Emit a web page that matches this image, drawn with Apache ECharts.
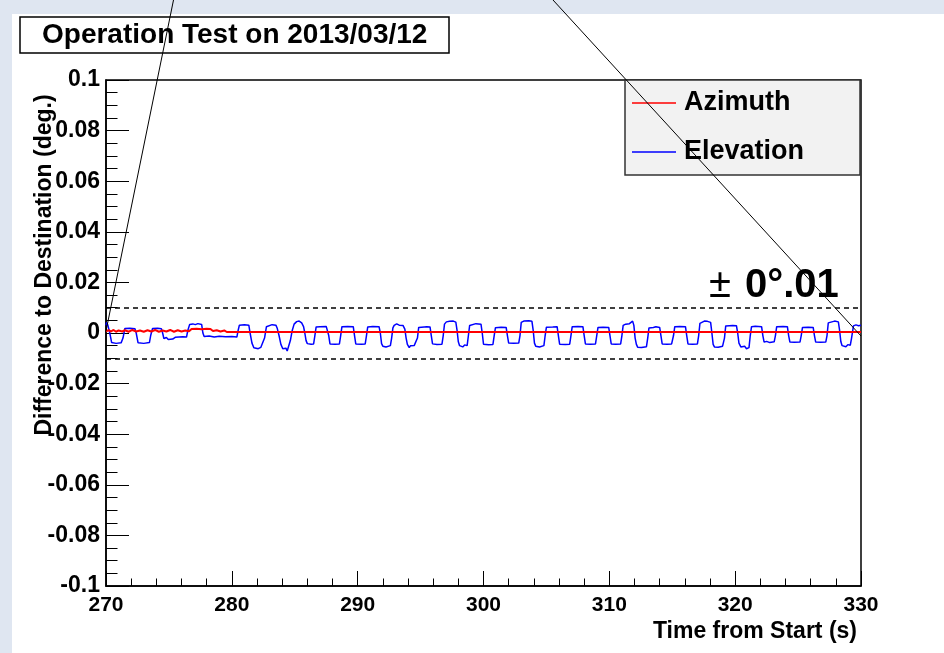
<!DOCTYPE html>
<html>
<head>
<meta charset="utf-8">
<script src="https://cdn.jsdelivr.net/npm/echarts@6/dist/echarts.min.js"></script>
<style>
html,body{margin:0;padding:0;background:#dfe6f1;}
#c{width:944px;height:653px;}
</style>
</head>
<body>
<div id="c"></div>
<script>
var titleText = 'Operation Test on 2013/03/12';
var seriesNames = ['Azimuth', 'Elevation'];
var xTicks = [270, 280, 290, 300, 310, 320, 330];
var yTicks = [-0.1, -0.08, -0.06, -0.04, -0.02, 0, 0.02, 0.04, 0.06, 0.08, 0.1];
var toleranceLevels = [0.01, -0.01];

var azimuth = [
[270.0,0.0007],[270.2,0.0011],[270.4,0.0006],[270.6,0.0012],[270.8,0.0005],[271.0,0.001],[271.3,0.0006],[271.5,0.0011],
[271.8,0.0005],[272.1,0.0012],[272.4,0.0006],[272.7,0.001],[273.0,0.0005],[273.3,0.0011],[273.6,0.0006],[273.9,0.0012],
[274.2,0.0005],[274.5,0.001],[274.8,0.0006],[275.1,0.0012],[275.4,0.0005],[275.7,0.0011],[276.0,0.0006],[276.3,0.001],
[276.6,0.0007],[276.8,0.0016],[277.2,0.0017],[277.6,0.0015],[278.0,0.0017],[278.3,0.0016],[278.5,0.0008],[278.8,0.0011],
[279.1,0.0006],[279.4,0.001],[279.6,0.0004],[318.95,0.0004],[319.0,0.0009],[319.05,0.0004],[328.25,0.0004],[328.3,0.0009],
[328.35,0.0004],[330.0,0.0004]
];

var elevation = [
[270.0,0.003],[270.05,0.0042],[270.15,0.003],[270.3,0.0],[270.45,-0.0038],[270.8,-0.0041],[271.2,-0.0039],[271.35,-0.002],
[271.5,0.0018],[271.9,0.0019],[272.3,0.0017],[272.4,0.0],[272.55,-0.0039],[273.0,-0.0041],[273.45,-0.0038],[273.55,-0.001],
[273.7,0.0018],[274.1,0.0019],[274.4,0.0017],[274.5,0.0],[274.6,-0.0022],[274.7,-0.0028],[274.8,-0.0018],[274.95,-0.0026],
[275.1,-0.002],[275.3,-0.0024],[275.5,-0.0017],[275.8,-0.0016],[276.1,-0.0015],[276.4,-0.0016],[276.5,0.001],[276.65,0.0034],
[276.9,0.0036],[277.1,0.0033],[277.3,0.0037],[277.6,0.0034],[277.7,0.0],[277.8,-0.0014],[278.2,-0.0012],[278.6,-0.0016],
[279.0,-0.0013],[279.5,-0.0015],[280.0,-0.0014],[280.4,-0.0016],[280.5,0.001],[280.6,0.0031],[281.0,0.0033],[281.35,0.0031],
[281.45,0.0],[281.6,-0.004],[281.75,-0.0058],[281.9,-0.0055],[282.1,-0.0062],[282.3,-0.0057],[282.45,-0.0058],
[282.6,-0.002],[282.75,0.0025],[282.9,0.003],[283.2,0.0033],[283.5,0.0031],[283.6,0.002],[283.75,-0.001],[283.9,-0.0045],
[284.05,-0.0062],[284.2,-0.0068],[284.3,-0.006],[284.4,-0.0071],[284.5,-0.0064],
[284.65,-0.003],[284.8,0.001],[284.95,0.0035],[285.15,0.0045],[285.35,0.0047],[285.55,0.004],[285.7,0.0025],[285.8,0.0],
[285.9,-0.003],[286.0,-0.0042],[286.3,-0.0044],[286.5,-0.0043],
[286.6,-0.001],[286.7,0.0024],[287.0,0.0025],[287.5,0.0026],[287.6,0.0024],[287.7,-0.001],[287.8,-0.0043],[288.2,-0.0044],[288.55,-0.0043],
[288.65,-0.001],[288.75,0.0025],[289.2,0.0026],[289.65,0.0025],[289.75,-0.001],[289.85,-0.0043],[290.3,-0.0044],[290.6,-0.0043],
[290.7,-0.001],[290.8,0.0024],[291.2,0.0026],[291.7,0.0025],[291.8,0.0],[291.9,-0.0042],[292.0,-0.0052],[292.1,-0.0046],
[292.25,-0.0055],[292.4,-0.0048],[292.6,-0.005],
[292.7,-0.002],[292.8,0.002],[292.9,0.003],[293.1,0.0036],[293.3,0.0031],[293.6,0.003],[293.75,0.0015],[293.85,-0.002],
[293.95,-0.0045],[294.1,-0.0058],[294.2,-0.005],[294.35,-0.0056],[294.5,-0.0049],[294.65,-0.0052],
[294.75,-0.002],[294.85,0.0022],[295.0,0.0026],[295.5,0.0025],[295.75,0.0024],[295.85,-0.001],[295.95,-0.0043],[296.3,-0.0045],[296.7,-0.0044],
[296.8,-0.001],[296.9,0.0035],[297.05,0.0044],[297.3,0.0046],[297.6,0.0047],[297.8,0.0043],[297.9,0.001],[298.0,-0.0035],
[298.1,-0.005],[298.2,-0.0044],[298.35,-0.0055],[298.5,-0.0047],[298.7,-0.005],
[298.8,-0.001],[298.9,0.003],[299.05,0.0036],[299.4,0.0037],[299.8,0.0035],[299.9,0.0],[300.0,-0.0044],[300.4,-0.0046],[300.75,-0.0045],
[300.85,-0.001],[300.95,0.0021],[301.4,0.0023],[301.8,0.0022],[301.9,-0.001],[302.0,-0.004],[302.4,-0.0041],[302.8,-0.004],
[302.9,-0.001],[303.0,0.0042],[303.2,0.0047],[303.6,0.0048],[303.85,0.0046],[303.95,0.001],[304.05,-0.004],[304.15,-0.0052],
[304.3,-0.0046],[304.45,-0.0055],[304.6,-0.0048],[304.8,-0.005],
[304.9,-0.001],[305.0,0.0023],[305.15,0.0026],[305.5,0.0024],[305.85,0.0025],[305.95,-0.001],[306.05,-0.0044],[306.5,-0.0045],[306.85,-0.0044],
[306.95,-0.001],[307.05,0.0025],[307.5,0.0026],[307.9,0.0025],[308.0,-0.001],[308.1,-0.0043],[308.5,-0.0044],[308.9,-0.0043],
[309.0,-0.001],[309.1,0.0022],[309.5,0.0023],[309.95,0.0022],[310.05,-0.001],[310.15,-0.0043],[310.5,-0.0044],[310.9,-0.0043],
[311.0,-0.001],[311.1,0.003],[311.3,0.0035],[311.6,0.0037],[311.85,0.0047],[311.95,0.003],[312.05,-0.002],[312.15,-0.0045],
[312.25,-0.0056],[312.4,-0.005],[312.55,-0.0057],[312.7,-0.0052],[312.95,-0.0054],
[313.05,-0.002],[313.15,0.002],[313.3,0.0024],[313.5,0.0022],[313.7,0.0025],[314.0,0.0022],[314.1,-0.001],[314.2,-0.0043],[314.6,-0.0044],[314.95,-0.0043],
[315.1,-0.001],[315.2,0.0025],[315.6,0.0026],[316.05,0.0025],[316.15,-0.001],[316.25,-0.0043],[316.6,-0.0044],[317.0,-0.0043],
[317.1,-0.001],[317.2,0.0038],[317.35,0.0042],[317.55,0.0047],[317.8,0.0046],[318.05,0.0042],[318.15,0.0],[318.25,-0.0045],
[318.35,-0.0055],[318.5,-0.0048],[318.65,-0.0056],[318.8,-0.0049],[319.0,-0.0052],
[319.15,-0.002],[319.25,0.0028],[319.4,0.0031],[319.8,0.003],[320.1,0.0029],[320.2,0.0],[320.3,-0.004],[320.45,-0.0055],
[320.6,-0.006],[320.75,-0.0052],[320.9,-0.0062],[321.1,-0.0058],
[321.2,-0.001],[321.3,0.0025],[321.6,0.0027],[322.1,0.0025],[322.2,-0.001],[322.3,-0.0036],[322.5,-0.0033],[322.75,-0.0038],[323.1,-0.0035],
[323.2,-0.001],[323.3,0.0025],[323.8,0.0026],[324.15,0.0025],[324.25,-0.001],[324.35,-0.0036],[324.7,-0.0037],[325.15,-0.0036],
[325.25,-0.001],[325.35,0.0022],[325.8,0.0023],[326.2,0.0022],[326.3,-0.001],[326.4,-0.0036],[326.8,-0.0037],[327.2,-0.0036],
[327.3,-0.001],[327.4,0.004],[327.55,0.0046],[327.9,0.0047],[328.2,0.0044],[328.3,0.001],[328.4,-0.0035],[328.5,-0.005],
[328.65,-0.0043],[328.8,-0.0054],[328.95,-0.0046],[329.15,-0.0048],
[329.25,-0.002],[329.4,0.0028],[329.6,0.0032],[329.8,0.0029],[330.0,0.0031]
];

var FONT = 'Liberation Sans';
var chart = echarts.init(document.getElementById('c'), null, {renderer: 'canvas'});

var option = {
  animation: false,
  backgroundColor: '#dfe6f1',
  title: {
    text: titleText,
    left: 20, top: 17,
    padding: [4, 22, 4, 22],
    borderColor: '#000', borderWidth: 1.5,
    backgroundColor: '#fff',
    textStyle: {fontFamily: FONT, fontWeight: 'bold', fontSize: 28, color: '#000', lineHeight: 28}
  },
  legend: {
    orient: 'vertical',
    left: 632, top: 88,
    icon: 'rect',
    itemWidth: 44, itemHeight: 1.5, itemGap: 19,
    padding: 0,
    data: seriesNames,
    textStyle: {fontFamily: FONT, fontWeight: 'bold', fontSize: 27, color: '#000', lineHeight: 30, padding: [0, 0, 0, 3]}
  },
  grid: {
    left: 106, top: 80, right: 83, bottom: 67,
    show: true, borderColor: '#000', borderWidth: 1.5, backgroundColor: 'transparent'
  },
  xAxis: {
    type: 'value', min: xTicks[0], max: xTicks[xTicks.length - 1], interval: 10,
    axisLine: {show: true, onZero: false, lineStyle: {color: '#000', width: 1.5}},
    axisTick: {show: true, inside: true, length: 15, lineStyle: {color: '#000', width: 1}},
    minorTick: {show: true, splitNumber: 5, length: 7.5, lineStyle: {color: '#000', width: 1}},
    splitLine: {show: false},
    axisLabel: {fontFamily: FONT, fontWeight: 'bold', fontSize: 21, color: '#000', margin: 9},
    name: 'Time from Start (s)',
    nameLocation: 'end', nameGap: -4,
    nameTextStyle: {fontFamily: FONT, fontWeight: 'bold', fontSize: 23, color: '#000', align: 'right', verticalAlign: 'top', padding: [34, 0, 0, 0]}
  },
  yAxis: {
    type: 'value', min: yTicks[0], max: yTicks[yTicks.length - 1], interval: 0.02,
    axisLine: {show: true, onZero: false, lineStyle: {color: '#000', width: 1.5}},
    axisTick: {show: true, inside: true, length: 23, lineStyle: {color: '#000', width: 1}},
    minorTick: {show: true, splitNumber: 4, length: 11.5, lineStyle: {color: '#000', width: 1}},
    splitLine: {show: false},
    axisLabel: {fontFamily: FONT, fontWeight: 'bold', fontSize: 23, color: '#000', margin: 6,
      formatter: function (v) { return String(Math.round(v * 1000) / 1000); }}
  },
  graphic: [
    {type: 'rect', z: -100, shape: {x: 12, y: 14, width: 932, height: 639}, style: {fill: '#fff'}, silent: true},
    {type: 'rect', z: 1, shape: {x: 625, y: 80, width: 235, height: 95}, style: {fill: '#f2f2f2', stroke: '#333', lineWidth: 1.5}, silent: true},
    {type: 'text', z: 10, x: 45, y: 265, rotation: Math.PI / 2, silent: true,
      style: {text: 'Difference to Destination (deg.)', fontFamily: FONT, fontWeight: 'bold', fontSize: 23, fill: '#000', align: 'center', verticalAlign: 'middle'}},
    {type: 'text', z: 10, x: 709, y: 286, silent: true,
      style: {text: '{a|±}{b|0°.01}', verticalAlign: 'middle', align: 'left',
        rich: {a: {fontFamily: FONT, fontSize: 40, fill: '#000', fontWeight: 'normal', padding: [0, 14, 0, 0]},
               b: {fontFamily: FONT, fontSize: 40, fill: '#000', fontWeight: 'bold'}}}},
    {type: 'line', z: 100, silent: true, shape: {x1: 173.5, y1: 0, x2: 106, y2: 331}, style: {stroke: '#000', lineWidth: 1}},
    {type: 'line', z: 100, silent: true, shape: {x1: 553, y1: 0, x2: 861, y2: 336}, style: {stroke: '#000', lineWidth: 1}}
  ],
  series: [
    {
      name: seriesNames[1], type: 'line', data: elevation, showSymbol: false, symbol: 'none',
      lineStyle: {color: '#0000ff', width: 1.5}, itemStyle: {color: '#0000ff'}, z: 3,
      markLine: {
        silent: true, symbol: ['none', 'none'], label: {show: false},
        lineStyle: {color: '#000', type: [5, 4], width: 1.5},
        data: toleranceLevels.map(function (v) { return {yAxis: v}; })
      }
    },
    {
      name: seriesNames[0], type: 'line', data: azimuth, showSymbol: false, symbol: 'none',
      lineStyle: {color: '#ff0000', width: 2}, itemStyle: {color: '#ff0000'}, z: 4
    }
  ]
};
chart.setOption(option);
</script>
</body>
</html>
